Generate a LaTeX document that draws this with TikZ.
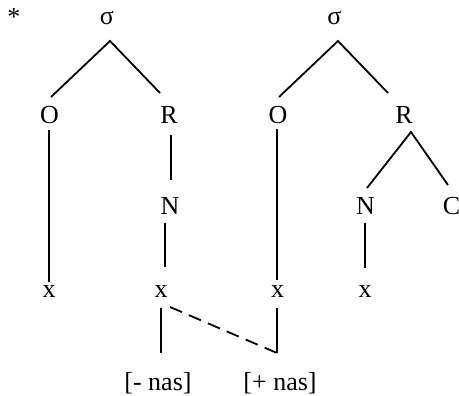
\documentclass[tikz,border=0pt]{standalone}
\usepackage{fontspec}
\setmainfont{Liberation Serif}
\begin{document}
\begin{tikzpicture}[x=1pt,y=1pt,
  lab/.style={anchor=base,inner sep=0pt,font=\fontsize{26}{30}\selectfont},
  br/.style={line width=1.8pt},
  dsh/.style={line width=1.8pt,dash pattern=on 13pt off 7.6pt}]
\useasboundingbox (0,0) rectangle (459,-396);
% left tree
\node[lab] (star) at (14,-26) {*};
\node[lab] (s1) at (107,-25) {σ};
\node[lab] (o1) at (49.5,-124) {O};
\node[lab] (r1) at (169,-124) {R};
\node[lab] (n1) at (170,-215) {N};
\node[lab] (x1) at (49,-298) {x};
\node[lab] (x2) at (161,-298) {x};
\node[lab] (lab1) at (158,-391) {[- nas]};
% right tree
\node[lab] (s2) at (334.5,-25) {σ};
\node[lab] (o2) at (278,-124) {O};
\node[lab] (r2) at (404,-124) {R};
\node[lab] (n2) at (365.5,-215) {N};
\node[lab] (c2) at (451.5,-215) {C};
\node[lab] (x3) at (277.5,-298) {x};
\node[lab] (x4) at (365,-298) {x};
\node[lab] (lab2) at (280,-391) {[+ nas]};
% left connectors
\draw[br] ([shift={(1.5,27)}]o1.base) -- ([shift={(3,-16)}]s1.base) -- ([shift={(-9,31)}]r1.base);
\draw[br] ([shift={(-0.5,-6)}]o1.base) -- ([shift={(0,16)}]x1.base);
\draw[br] ([shift={(2,-11)}]r1.base) -- ([shift={(1,35)}]n1.base);
\draw[br] ([shift={(-5,-8)}]n1.base) -- ([shift={(4,31)}]x2.base);
\draw[br] ([shift={(0,-10)}]x2.base) -- ([shift={(3,38)}]lab1.base);
% right connectors
\draw[br] ([shift={(1,27)}]o2.base) -- ([shift={(3.5,-16)}]s2.base) -- ([shift={(-16,31)}]r2.base);
\draw[br] ([shift={(-1,-5)}]o2.base) -- ([shift={(-0.5,18)}]x3.base);
\draw[br] ([shift={(1.5,27)}]n2.base) -- ([shift={(7,-8)}]r2.base) -- ([shift={(-3.5,30)}]c2.base);
\draw[br] ([shift={(-0.5,-8)}]n2.base) -- ([shift={(0,30)}]x4.base);
\draw[br] ([shift={(-0.5,-10)}]x3.base) -- ([shift={(-3,38)}]lab2.base);
% dashed association
\draw[dsh] ([shift={(9,-9)}]x2.base) -- ([shift={(-3,38)}]lab2.base);
\end{tikzpicture}
\end{document}
